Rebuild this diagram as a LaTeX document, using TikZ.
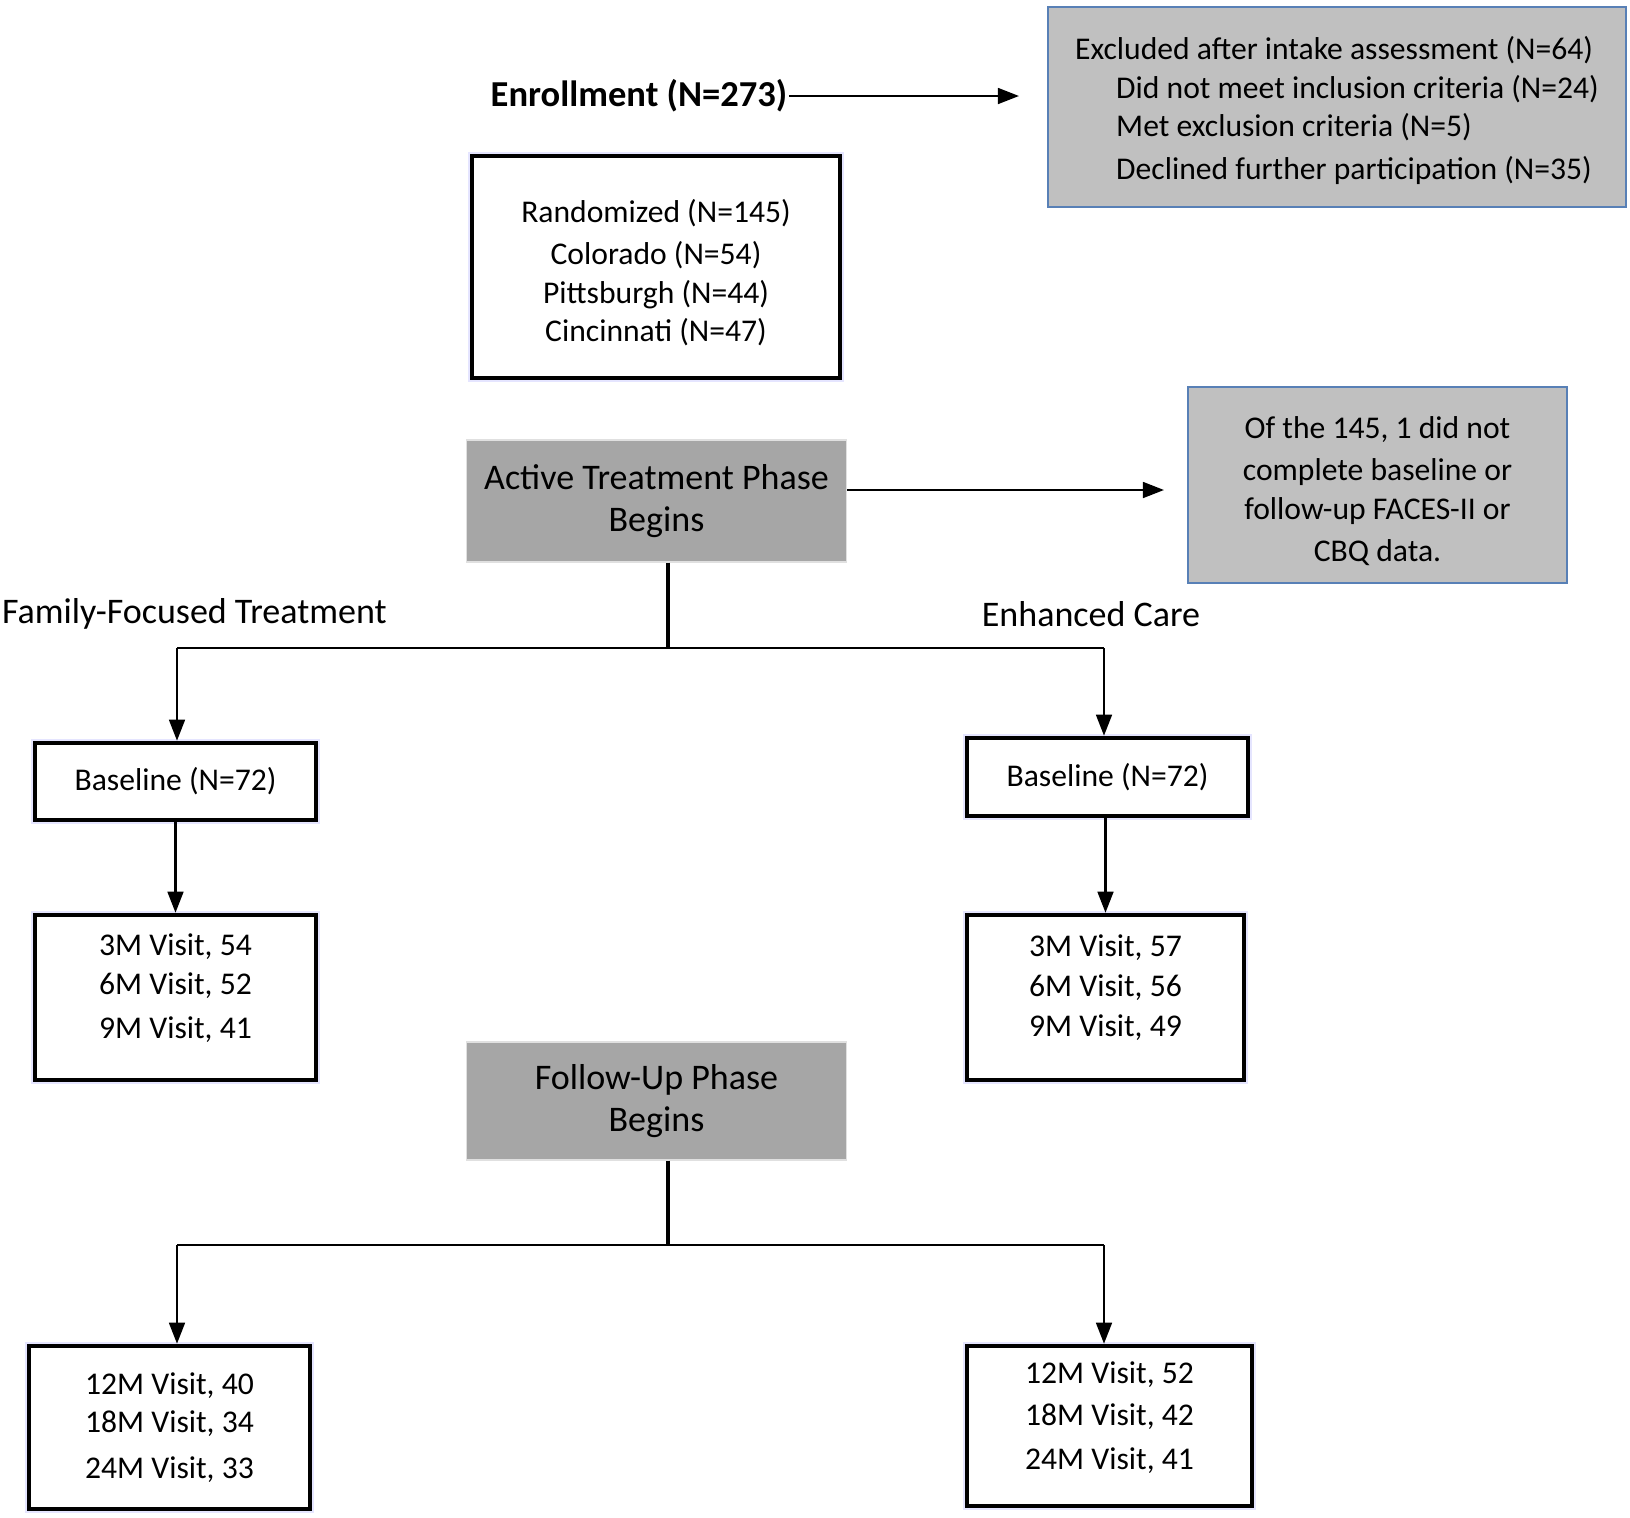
\documentclass[tikz,border=0pt]{standalone}
\usepackage{fontspec}
\setmainfont{Carlito}
\usetikzlibrary{arrows.meta}
\definecolor{notegray}{RGB}{192,192,192}
\definecolor{phasegray}{RGB}{166,166,166}
\definecolor{edgeblue}{RGB}{88,128,182}
\tikzset{
  visitbox/.style={draw=black, line width=2.6pt, fill=white, align=center, inner sep=0pt,
    preaction={draw=blue!10, line width=4.8pt}},
  notebox/.style={draw=edgeblue, line width=1.3pt, fill=notegray, inner sep=0pt},
  phasebox/.style={draw=black!12, line width=0.6pt, fill=phasegray, align=center, inner sep=0pt,
    font=\fontsize{20.5}{23.5}\selectfont},
  grouplbl/.style={inner sep=1pt, font=\fontsize{20.5}{23.5}\selectfont},
  link/.style={line width=1.3pt, -{Triangle[length=12pt,width=9pt]}},
  trunk/.style={line width=2.4pt},
  branch/.style={line width=1.3pt}
}
\begin{document}
\begin{tikzpicture}[x=0.02cm, y=-0.02cm, font=\fontsize{18}{22}\selectfont]
	\useasboundingbox (0,0) rectangle (1630,1518);
	% Enrollment und Ausschluss
	\node[grouplbl, font=\fontsize{20.8}{24}\selectfont\bfseries] (enroll) at (639,96) {Enrollment (N=273)};
	\node[notebox, minimum width=11.56cm, minimum height=4.0cm, align=left] (excl) at (1337,107)
		{\rule{0pt}{17pt}Excluded after intake assessment (N=64)\\
		 \hspace{1.3em}Did not meet inclusion criteria (N=24)\\
		 \hspace{1.3em}Met exclusion criteria (N=5)\\[2pt]
		 \hspace{1.3em}Declined further participation (N=35)};
	\coordinate (exclin) at (1019,96);
	\draw[link] (enroll) -- (exclin);
	% Randomisierung
	\node[visitbox, minimum width=7.36cm, minimum height=4.44cm] (rand) at (656,267)
		{\rule{0pt}{19.5pt}Randomized (N=145)\\[2pt] Colorado (N=54)\\ Pittsburgh (N=44)\\ Cincinnati (N=47)};
	% Aktive Behandlung
	\node[phasebox, minimum width=7.62cm, minimum height=2.44cm] (active) at (656.5,501)
		{Active Treatment Phase\\ Begins};
	\node[notebox, minimum width=7.58cm, minimum height=3.92cm, align=center] (miss) at (1377.5,485)
		{\rule{0pt}{19.5pt}Of the 145, 1 did not\\[2pt] complete baseline or\\ follow-up FACES-II or\\[2pt] CBQ data.};
	\coordinate (missin) at (1164,490);
	\draw[link] (active.east |- missin) -- (missin);
	% Gruppen
	\node[grouplbl, anchor=west] (fftlbl) at (0,614) {Family-Focused Treatment};
	\node[grouplbl] (eclbl) at (1091,614) {Enhanced Care};
	\node[visitbox, minimum width=5.62cm, minimum height=1.54cm] (ffbase) at (175.5,781.5) {Baseline (N=72)};
	\node[visitbox, minimum width=5.62cm, minimum height=1.56cm] (ecbase) at (1107.5,777) {Baseline (N=72)};
	\coordinate (split) at (668,648);
	\coordinate (ffsplit) at (177,648);
	\coordinate (ecsplit) at (1104,648);
	\draw[trunk] (active.south -| split) -- (split);
	\draw[branch] (ffsplit) -- (ecsplit);
	\draw[link] (ffsplit) -- (ffsplit |- ffbase.north);
	\draw[link] (ecsplit) -- (ecsplit |- ecbase.north);
	% Besuche 3M bis 9M
	\node[visitbox, minimum width=5.62cm, minimum height=3.30cm] (ffearly) at (175.5,997.5)
		{3M Visit, 54\\ 6M Visit, 52\\[3pt] 9M Visit, 41\rule[-13pt]{0pt}{0pt}};
	\node[visitbox, minimum width=5.54cm, minimum height=3.30cm] (ecearly) at (1105.5,997.5)
		{3M Visit, 57\\[1pt] 6M Visit, 56\\[1pt] 9M Visit, 49\rule[-13.5pt]{0pt}{0pt}};
	\draw[link] (ffbase) -- (ffearly);
	\draw[link] (ecbase.south -| ecearly) -- (ecearly);
	% Nachbeobachtung
	\node[phasebox, minimum width=7.62cm, minimum height=2.36cm] (follow) at (656.5,1101)
		{Follow-Up Phase\\ Begins};
	\node[visitbox, minimum width=5.62cm, minimum height=3.26cm] (fflate) at (169.5,1427.5)
		{12M Visit, 40\\ 18M Visit, 34\\[4pt] 24M Visit, 33};
	\node[visitbox, minimum width=5.70cm, minimum height=3.20cm] (eclate) at (1109.5,1426)
		{12M Visit, 52\\[2pt] 18M Visit, 42\\[3pt] 24M Visit, 41\rule[-12pt]{0pt}{0pt}};
	\coordinate (split2) at (668,1245);
	\coordinate (ffsplit2) at (177,1245);
	\coordinate (ecsplit2) at (1104,1245);
	\draw[trunk] (follow.south -| split2) -- (split2);
	\draw[branch] (ffsplit2) -- (ecsplit2);
	\draw[link] (ffsplit2) -- (ffsplit2 |- fflate.north);
	\draw[link] (ecsplit2) -- (ecsplit2 |- eclate.north);
\end{tikzpicture}
\end{document}
